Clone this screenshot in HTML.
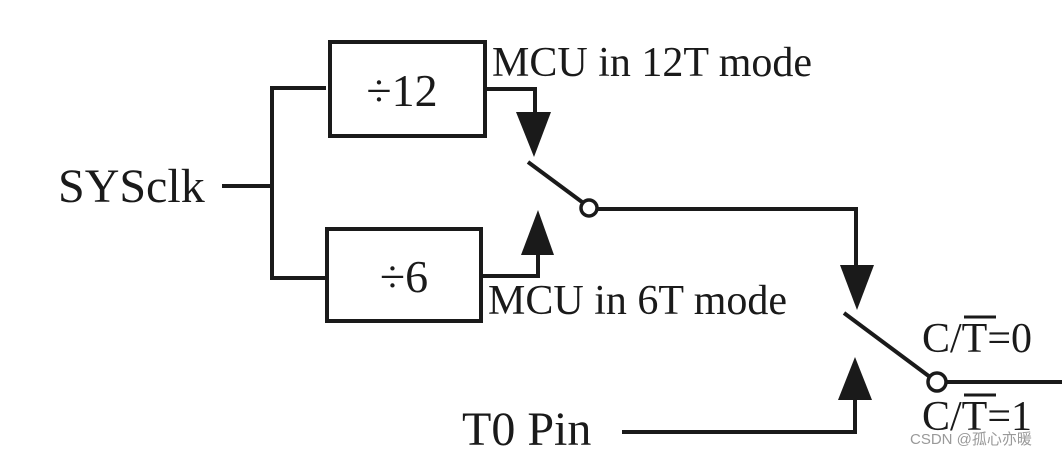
<!DOCTYPE html>
<html><head><meta charset="utf-8"><style>
html,body{margin:0;padding:0;background:#fff;width:1062px;height:457px;overflow:hidden}
svg{display:block}
text{font-family:"Liberation Serif",serif;fill:#1a1a1a}
</style></head><body>
<svg width="1062" height="457" viewBox="0 0 1062 457">
<g stroke="#1a1a1a" stroke-width="4" fill="none">
<rect x="330" y="42" width="155" height="94"/>
<rect x="327" y="229" width="154" height="92"/>
<polyline points="222,186 272,186"/>
<polyline points="326,88 272,88 272,278 325,278"/>
<polyline points="487,89 535,89 535,115"/>
<polyline points="483,276 538,276 538,252"/>
<line x1="528" y1="162" x2="582" y2="202"/>
<polyline points="597,209 856,209 856,268"/>
<line x1="844" y1="313" x2="930" y2="377"/>
<line x1="946" y1="382" x2="1062" y2="382"/>
<polyline points="622,432 855,432 855,398"/>
</g>
<g fill="#1a1a1a">
<polygon points="516,112 551,112 534,157"/>
<polygon points="521,255 554,255 538,210"/>
<polygon points="840,265 874,265 857,310"/>
<polygon points="838,400 872,400 855,357"/>
</g>
<circle cx="589" cy="208" r="8" fill="#fff" stroke="#1a1a1a" stroke-width="3.5"/>
<circle cx="937" cy="382" r="9" fill="#fff" stroke="#1a1a1a" stroke-width="3.5"/>
<text x="58" y="202" font-size="48">SYSclk</text>
<text x="402" y="106" font-size="46" text-anchor="middle">÷12</text>
<text x="404" y="292" font-size="46" text-anchor="middle">÷6</text>
<text x="492" y="76" font-size="42">MCU in 12T mode</text>
<text x="488" y="314" font-size="42">MCU in 6T mode</text>
<text x="922" y="352" font-size="42">C/T=0</text>
<line x1="964" y1="317" x2="996" y2="317" stroke="#1a1a1a" stroke-width="3"/>
<text x="922" y="430" font-size="42">C/T=1</text>
<line x1="964" y1="395" x2="996" y2="395" stroke="#1a1a1a" stroke-width="3"/>
<text x="462" y="445" font-size="48">T0 Pin</text>
<text x="910" y="444" font-size="15" style="font-family:'Liberation Sans','Noto Sans CJK SC',sans-serif;fill:#999">CSDN @孤心亦暖</text>
</svg>
</body></html>
